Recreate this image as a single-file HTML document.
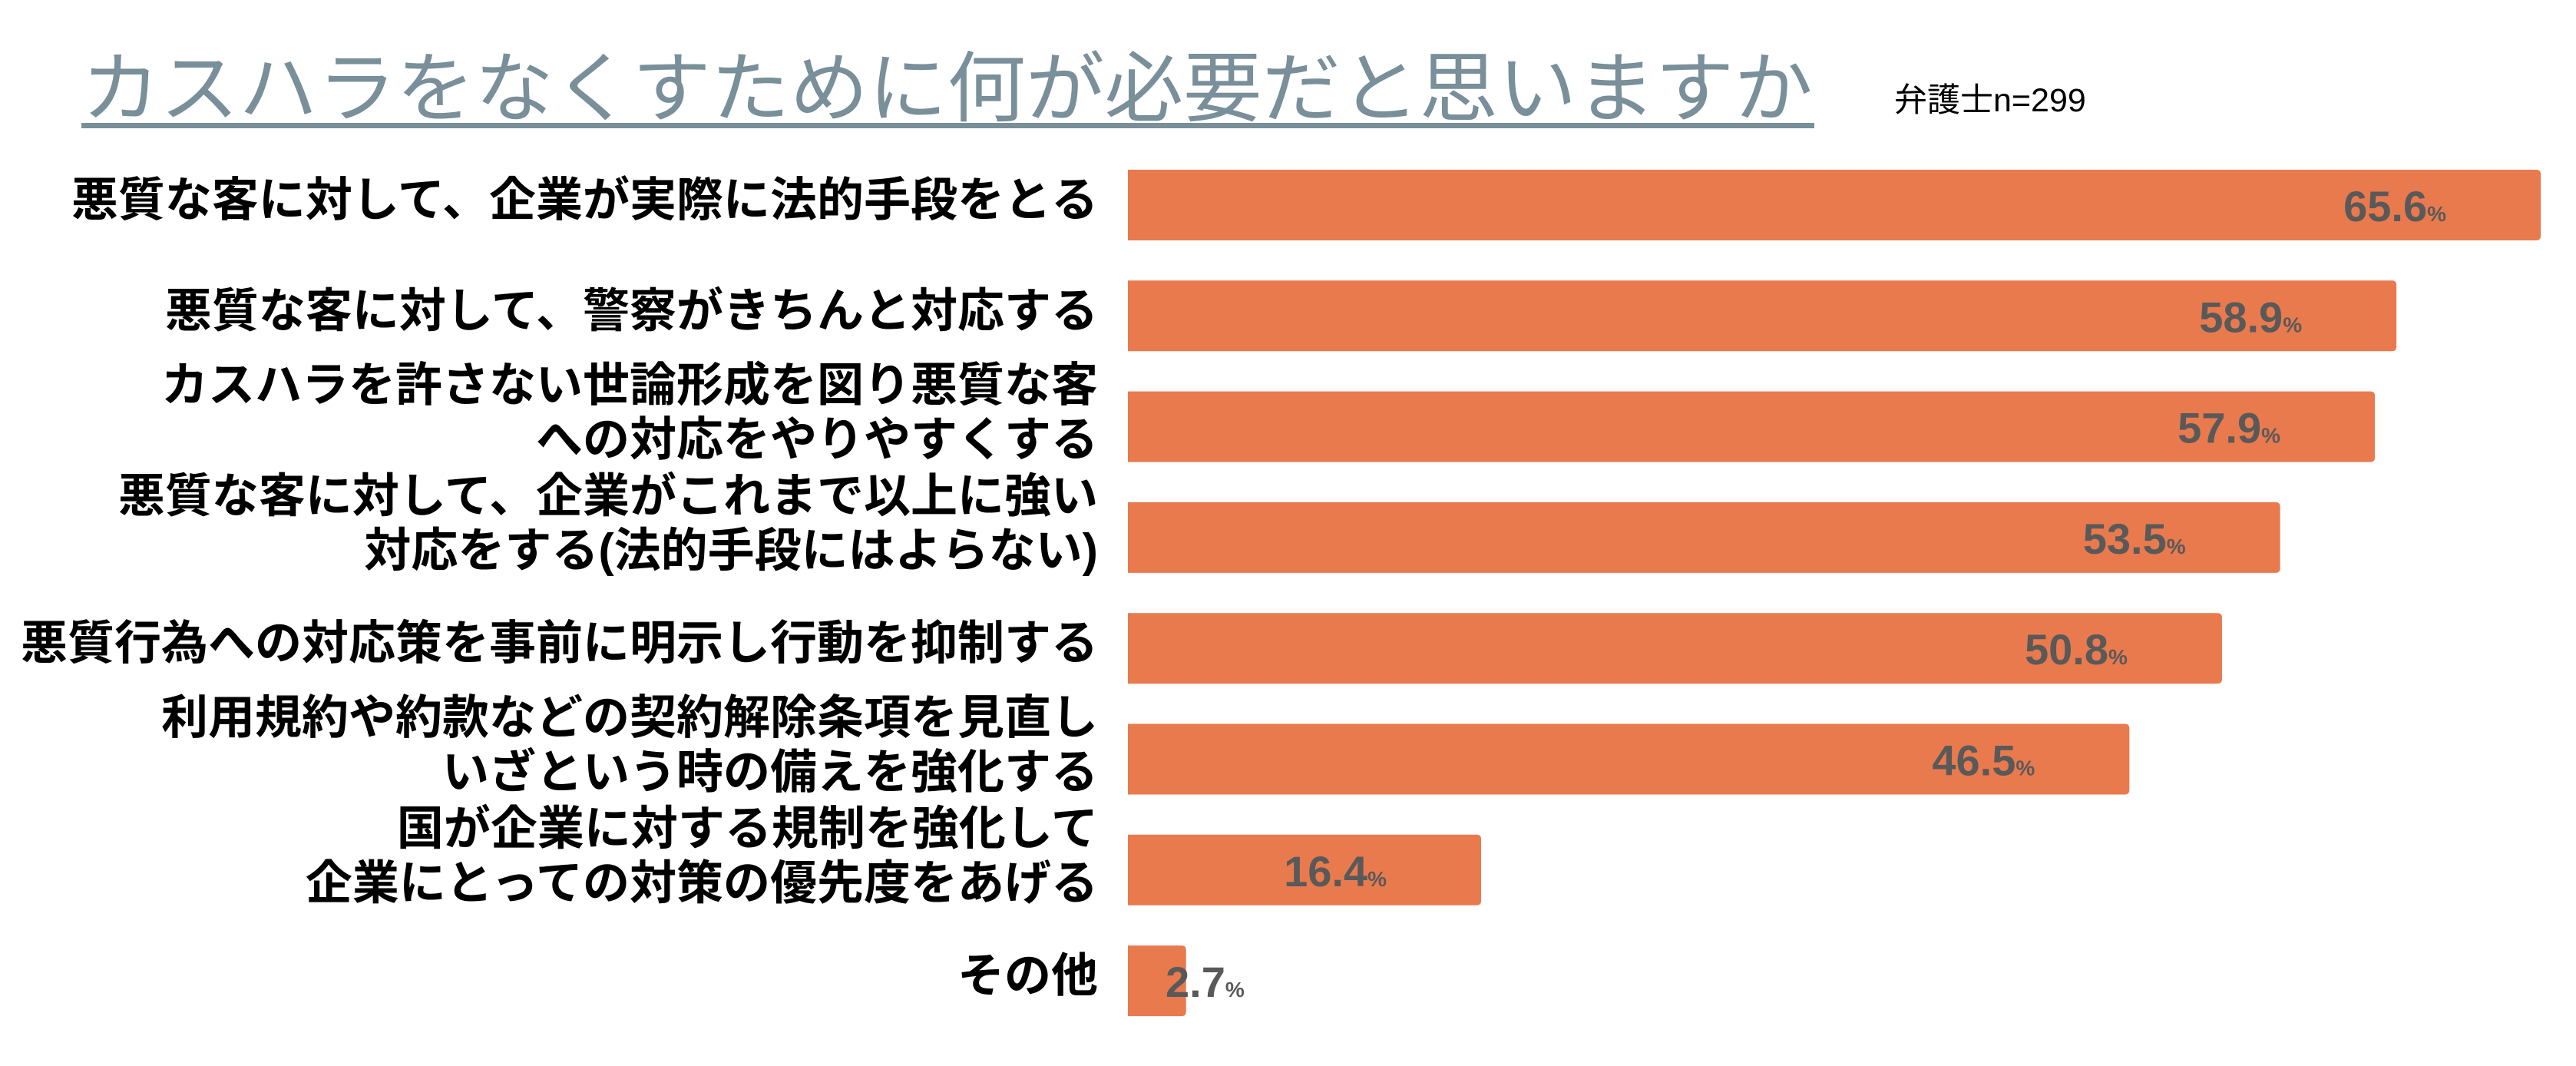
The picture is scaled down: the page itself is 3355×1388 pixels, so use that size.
<!DOCTYPE html>
<html><head><meta charset="utf-8">
<style>
html,body{margin:0;padding:0;background:#fff;}
svg{display:block;}
</style></head>
<body>
<svg id="chart" width="3355" height="1388" viewBox="0 0 3355 1388" xmlns="http://www.w3.org/2000/svg">
  <text x="106" y="150" font-family="'Liberation Sans','Noto Sans CJK JP',sans-serif" font-size="100" fill="#798f9a" textLength="2255" lengthAdjust="spacingAndGlyphs">カスハラをなくすために何が必要だと思いますか</text>
  <rect x="106" y="160" width="2257" height="7" fill="#798f9a"/>
  <text x="2467" y="145" font-family="'Liberation Sans','Noto Sans CJK JP',sans-serif" font-size="43" fill="#000">弁護士n=299</text>
  <g id="bars"></g>
</svg>
<script>
const categories = [
  ["悪質な客に対して、企業が実際に法的手段をとる"],
  ["悪質な客に対して、警察がきちんと対応する"],
  ["カスハラを許さない世論形成を図り悪質な客","への対応をやりやすくする"],
  ["悪質な客に対して、企業がこれまで以上に強い","対応をする(法的手段にはよらない)"],
  ["悪質行為への対応策を事前に明示し行動を抑制する"],
  ["利用規約や約款などの契約解除条項を見直し","いざという時の備えを強化する"],
  ["国が企業に対する規制を強化して","企業にとっての対策の優先度をあげる"],
  ["その他"]
];
const values = [65.6, 58.9, 57.9, 53.5, 50.8, 46.5, 16.4, 2.7];

const NS = "http://www.w3.org/2000/svg";
const x0 = 1469, pxPerPct = 28.05;
const top0 = 221, pitch = 144.3, barH = 92;
const xScale = v => x0 + v * pxPerPct;
const yScale = i => top0 + i * pitch;
const g = document.getElementById('bars');
const FONT = "'Liberation Sans','Noto Sans CJK JP',sans-serif";

values.forEach((v, i) => {
  const y = yScale(i), cy = y + barH / 2;
  const w = xScale(v) - x0;
  const r = 6;
  const p = document.createElementNS(NS, 'path');
  p.setAttribute('d', `M${x0},${y} H${x0 + w - r} Q${x0 + w},${y} ${x0 + w},${y + r} V${y + barH - r} Q${x0 + w},${y + barH} ${x0 + w - r},${y + barH} H${x0} Z`);
  p.setAttribute('fill', '#e97a4e');
  
  
  g.appendChild(p);

  const t = document.createElementNS(NS, 'text');
  
  
  t.setAttribute('font-family', FONT);
  t.setAttribute('font-weight', 'bold');
  t.setAttribute('fill', '#595959');
  t.setAttribute('y', cy + 21);
  if (w > 300) {
    t.setAttribute('x', xScale(v) - 190);
    t.setAttribute('text-anchor', 'middle');
  } else {
    t.setAttribute('x', x0 + 49);
    t.setAttribute('text-anchor', 'start');
  }
  const a = document.createElementNS(NS, 'tspan');
  a.setAttribute('font-size', '56');
  a.textContent = v.toFixed(1);
  const b = document.createElementNS(NS, 'tspan');
  b.setAttribute('font-size', '28');
  b.textContent = '%';
  t.appendChild(a); t.appendChild(b);
  g.appendChild(t);

  const lines = categories[i];
  const lh = 71;
  const blockCenter = lines.length > 1 ? cy - 20 : cy - 8;
  lines.forEach((ln, k) => {
    const lt = document.createElementNS(NS, 'text');
    
    
    lt.setAttribute('x', 1430);
    lt.setAttribute('y', blockCenter + (k - (lines.length - 1) / 2) * lh + 22);
    lt.setAttribute('text-anchor', 'end');
    lt.setAttribute('font-family', FONT);
    lt.setAttribute('font-weight', 'bold');
    lt.setAttribute('font-size', '61');
    lt.setAttribute('fill', '#000');
    lt.textContent = ln;
    g.appendChild(lt);
  });
});
</script>
</body></html>
